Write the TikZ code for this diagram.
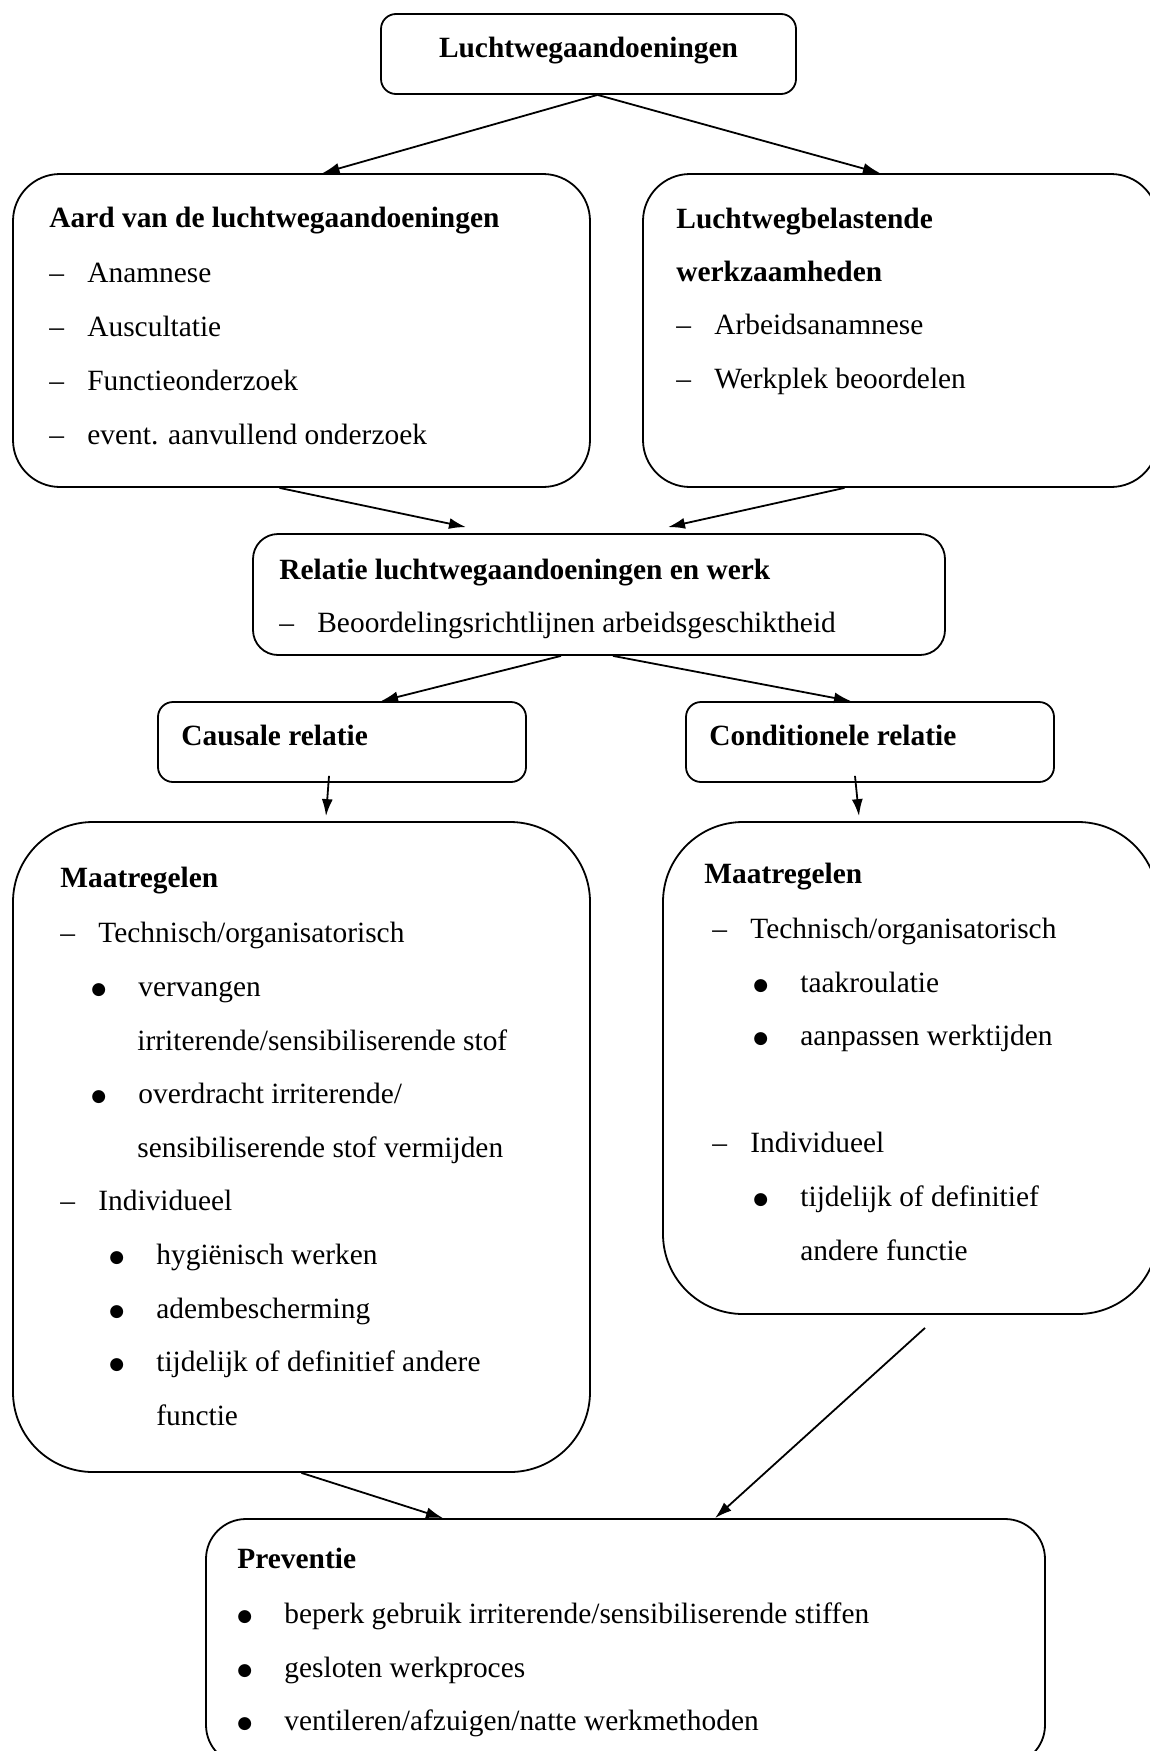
\documentclass[tikz,border=0pt]{standalone}
\usepackage{fontspec}
\setmainfont{Liberation Serif}
\newfontfamily\symfont{DejaVu Sans}
\usetikzlibrary{arrows.meta,calc,fit}
\newcommand{\streep}[1]{\makebox[19pt][l]{–}#1}
\newcommand{\punt}[1]{\makebox[23.5pt][l]{\raisebox{0.6pt}{\symfont\fontsize{8.5}{10}\selectfont ●}}#1}

\begin{document}
\begin{tikzpicture}[x=0.5pt,y=-0.5pt,
  vak/.style={draw,line width=0.9pt,inner sep=0pt},
  tekst/.style={anchor=base west,inner sep=0pt,font=\fontsize{14.7}{18}\selectfont},
  kop/.style={tekst,font=\fontsize{14.7}{18}\selectfont\bfseries},
  pijl/.style={-{Latex[length=8.5pt,width=5.5pt]},line width=0.9pt}]
\useasboundingbox (0,0) rectangle (1150,1751);
\fill[white] (0,0) rectangle (1150,1751);

\node[vak,rounded corners=7.5pt,fit={(381,14)(796,94)}] (top) {};
\node[vak,rounded corners=23.5pt,fit={(13,174)(590,487)}] (aard) {};
\node[vak,rounded corners=23.5pt,fit={(643,174)(1158,487)}] (belast) {};
\node[vak,rounded corners=12.5pt,fit={(253,534)(945,655)}] (relatie) {};
\node[vak,rounded corners=7.5pt,fit={(158,702)(526,782)}] (causaal) {};
\node[vak,rounded corners=7.5pt,fit={(686,702)(1054,782)}] (conditioneel) {};
\node[vak,rounded corners=40pt,fit={(13,822)(590,1472)}] (maatL) {};
\node[vak,rounded corners=40pt,fit={(663,822)(1158,1314)}] (maatR) {};
\node[vak,rounded corners=20pt,fit={(206,1519)(1045,1765)}] (preventie) {};

\node[kop,anchor=base] (k0) at (588.5,57) {Luchtwegaandoeningen};

\node[kop] (a0) at (49,227) {Aard van de luchtwegaandoeningen};
\node[tekst] (a1) at (49,282) {\streep{Anamnese}};
\node[tekst] (a2) at (49,336) {\streep{Auscultatie}};
\node[tekst] (a3) at (49,390) {\streep{Functieonderzoek}};
\node[tekst] (a4) at (49,444) {\streep{event. aanvullend onderzoek}};

\node[kop] (b0) at (676,228) {Luchtwegbelastende};
\node[kop] (b1) at (676,281) {werkzaamheden};
\node[tekst] (b2) at (676,334) {\streep{Arbeidsanamnese}};
\node[tekst] (b3) at (676,388) {\streep{Werkplek beoordelen}};

\node[kop] (r0) at (279,579) {Relatie luchtwegaandoeningen en werk};
\node[tekst] (r1) at (279,632) {\streep{Beoordelingsrichtlijnen arbeidsgeschiktheid}};

\node[kop] (c0) at (181,745) {Causale relatie};
\node[kop] (d0) at (709,745) {Conditionele relatie};

\node[kop] (m0) at (60,887) {Maatregelen};
\node[tekst] (m1) at (60,942) {\streep{Technisch/organisatorisch}};
\node[tekst] (m2) at (91,996) {\punt{vervangen}};
\node[tekst] (m3) at (137,1050) {irriterende/sensibiliserende stof};
\node[tekst] (m4) at (91,1103) {\punt{overdracht irriterende/}};
\node[tekst] (m5) at (137,1157) {sensibiliserende stof vermijden};
\node[tekst] (m6) at (60,1210) {\streep{Individueel}};
\node[tekst] (m7) at (109,1264) {\punt{hygiënisch werken}};
\node[tekst] (m8) at (109,1318) {\punt{adembescherming}};
\node[tekst] (m9) at (109,1371) {\punt{tijdelijk of definitief andere}};
\node[tekst] (m10) at (156,1425) {functie};

\node[kop] (n0) at (704,883) {Maatregelen};
\node[tekst] (n1) at (712,938) {\streep{Technisch/organisatorisch}};
\node[tekst] (n2) at (753,992) {\punt{taakroulatie}};
\node[tekst] (n3) at (753,1045) {\punt{aanpassen werktijden}};
\node[tekst] (n4) at (712,1152) {\streep{Individueel}};
\node[tekst] (n5) at (753,1206) {\punt{tijdelijk of definitief}};
\node[tekst] (n6) at (800,1260) {andere functie};

\node[kop] (p0) at (237,1568) {Preventie};
\node[tekst] (p1) at (237,1623) {\punt{beperk gebruik irriterende/sensibiliserende stiffen}};
\node[tekst] (p2) at (237,1677) {\punt{gesloten werkproces}};
\node[tekst] (p3) at (237,1730) {\punt{ventileren/afzuigen/natte werkmethoden}};

\draw[pijl] ($(top.south)+(9,0)$) -- ($(aard.north)+(21,0)$);
\draw[pijl] ($(top.south)+(9,0)$) -- ($(belast.north)+(-20.5,0)$);
\draw[pijl] ($(aard.south)+(-22,0)$) -- ($(relatie.north)+(-133,-6)$);
\draw[pijl] ($(belast.south)+(-56,0)$) -- ($(relatie.north)+(69,-6)$);
\draw[pijl] ($(relatie.south)+(-38,0)$) -- ($(causaal.north)+(39,0)$);
\draw[pijl] ($(relatie.south)+(14,0)$) -- ($(conditioneel.north)+(-19,0)$);
\draw[pijl] ($(causaal.south)+(-13,-7)$) -- ($(maatL.north)+(24.5,-5)$);
\draw[pijl] ($(conditioneel.south)+(-15,-7)$) -- ($(maatR.north)+(-51.5,-5)$);
\draw[pijl] (maatL.south) -- ($(preventie.north)+(-182.5,0)$);
\draw[pijl] ($(maatR.south)+(14.5,13)$) -- ($(preventie.north)+(89.5,0)$);
\end{tikzpicture}
\end{document}
